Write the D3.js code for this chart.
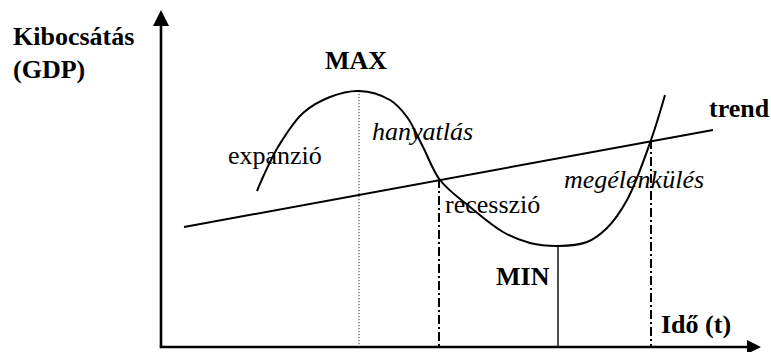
<!DOCTYPE html>
<html>
<head>
<meta charset="utf-8">
<script src="https://cdn.jsdelivr.net/npm/d3@7"></script>
<style>
  body { margin: 0; background: #fff; }
</style>
</head>
<body>
<svg id="chart" width="771" height="352"></svg>
<script>
// business cycle sketch, values in (time, output) units
const cycleT = [96, 102, 117, 142, 169, 198, 229, 246, 262, 279, 309, 342, 369, 397, 426, 446, 466, 490, 504];
const cycleV = [156, 170, 200, 234, 250, 256, 247, 230, 200, 167, 140, 115, 104, 101, 105, 119, 147, 207, 252];

const trendT = [23, 552];
const trendV = [120, 217];

// vertical markers: max, crossings with trend, min
const markerT = [198, 278, 490, 397];
const markerV = [256, 168, 207, 101];
const markerKind = ["dotted", "dashdot", "dashdot", "solid"];

const labelText = ["Kibocsátás", "(GDP)", "MAX", "expanzió", "hanyatlás", "recesszió", "megélenkülés", "trend", "MIN", "Idő (t)"];
const labelT = [-148, -148, 164, 67, 211, 284, 403, 548, 335, 500];
const labelV = [302, 269, 278, 183, 207, 134, 159, 230, 62, 14];
const labelBold = [true, true, true, false, false, false, false, true, true, true];
const labelItalic = [false, false, false, false, true, false, true, false, false, false];

const svg = d3.select("#chart");

const x = d3.scaleLinear().domain([0, 600]).range([161, 761]);
const y = d3.scaleLinear().domain([0, 337]).range([347, 10]);

// axes with arrow heads
svg.append("line")
  .attr("x1", x(0)).attr("y1", y(0))
  .attr("x2", x(0)).attr("y2", y(322))
  .attr("stroke", "#000").attr("stroke-width", 2.6);
svg.append("path")
  .attr("d", `M${x(0)},${y(337)} L${x(0) - 8},${y(321)} L${x(0) + 8},${y(321)} Z`)
  .attr("fill", "#000");

svg.append("line")
  .attr("x1", x(0) - 1.3).attr("y1", y(0))
  .attr("x2", x(587)).attr("y2", y(0))
  .attr("stroke", "#000").attr("stroke-width", 2.6);
svg.append("path")
  .attr("d", `M${x(600)},${y(0)} L${x(586)},${y(0) - 7} L${x(586)},${y(0) + 7} Z`)
  .attr("fill", "#000");

// vertical markers
const dash = { dotted: "1.2,1.8", dashdot: "9,3,2,3", solid: null };
const width = { dotted: 1, dashdot: 2, solid: 1.6 };
const colour = { dotted: "#333", dashdot: "#000", solid: "#222" };

svg.append("g")
  .selectAll("line")
  .data(markerT)
  .join("line")
  .attr("x1", (d) => x(d))
  .attr("x2", (d) => x(d))
  .attr("y1", (d, i) => y(markerV[i]))
  .attr("y2", y(0))
  .attr("stroke", (d, i) => colour[markerKind[i]])
  .attr("stroke-width", (d, i) => width[markerKind[i]])
  .attr("stroke-dasharray", (d, i) => dash[markerKind[i]]);

// trend line
svg.append("line")
  .attr("x1", x(trendT[0])).attr("y1", y(trendV[0]))
  .attr("x2", x(trendT[1])).attr("y2", y(trendV[1]))
  .attr("stroke", "#000").attr("stroke-width", 2);

// cycle curve
const cycle = cycleT.map((t, i) => [t, cycleV[i]]);
const line = d3.line()
  .x((d) => x(d[0]))
  .y((d) => y(d[1]))
  .curve(d3.curveCatmullRom.alpha(0.5));

svg.append("path")
  .datum(cycle)
  .attr("d", line)
  .attr("fill", "none")
  .attr("stroke", "#000")
  .attr("stroke-width", 2);

// labels
svg.append("g")
  .selectAll("text")
  .data(labelText)
  .join("text")
  .attr("x", (d, i) => x(labelT[i]))
  .attr("y", (d, i) => y(labelV[i]))
  .attr("font-family", "Liberation Serif")
  .attr("font-size", 26)
  .attr("fill", "#000")
  .attr("font-weight", (d, i) => (labelBold[i] ? "bold" : "normal"))
  .attr("font-style", (d, i) => (labelItalic[i] ? "italic" : "normal"))
  .text((d) => d);
</script>
</body>
</html>
